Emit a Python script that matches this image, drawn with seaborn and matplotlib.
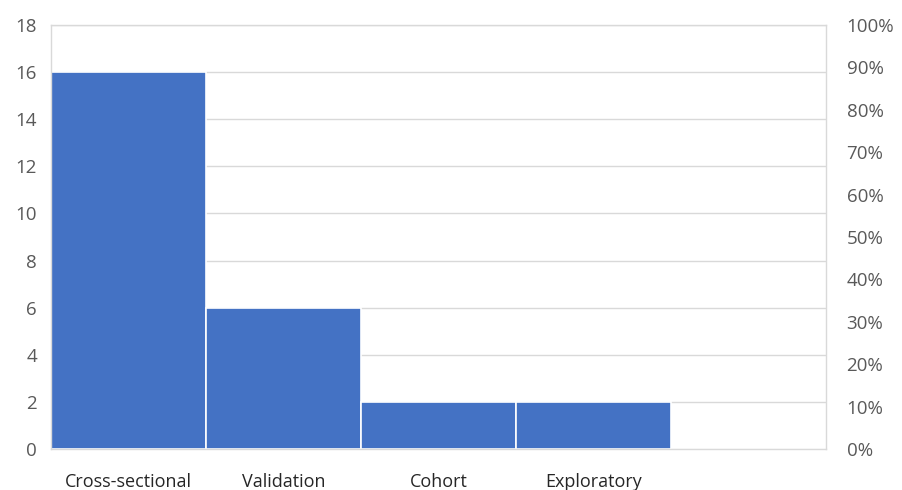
import matplotlib
matplotlib.use("Agg")
import matplotlib.pyplot as plt
import seaborn as sns
import pandas as pd
from matplotlib.ticker import PercentFormatter

# Study types and number of studies per type
categories = ["Cross-sectional", "Validation", "Cohort", "Exploratory", ""]
counts = [16, 6, 2, 2, 0]
count_ticks = [0, 2, 4, 6, 8, 10, 12, 14, 16, 18]
pct_ticks = [0.0, 0.1, 0.2, 0.3, 0.4, 0.5, 0.6, 0.7, 0.8, 0.9, 1.0]

sns.set_theme(style="white")
plt.rcParams["font.family"] = ["Open Sans", "DejaVu Sans"]

df = pd.DataFrame({"category": categories, "count": counts})

fig = plt.figure(figsize=(9.02, 4.90), dpi=100)
ax = fig.add_axes([0.0565, 0.0837, 0.859, 0.8653])

sns.barplot(data=df, x="category", y="count", order=categories,
            color="#4472C4", saturation=1, width=1.0,
            edgecolor="white", linewidth=1.2, ax=ax)

ax.set_ylim(0, 18)
ax.set_xlim(-0.5, len(categories) - 0.5)
ax.set_yticks(count_ticks)
ax.yaxis.grid(True, color="#D9D9D9", linewidth=1.0)
ax.set_axisbelow(True)
ax.set_xlabel("")
ax.set_ylabel("")
for side in ["left", "right", "top", "bottom"]:
    ax.spines[side].set_visible(True)
    ax.spines[side].set_color("#D9D9D9")
    ax.spines[side].set_linewidth(1.0)
ax.tick_params(axis="y", length=0, pad=10, labelsize=13.5, labelcolor="#595959")
ax.tick_params(axis="x", length=0, pad=17, labelsize=13, labelcolor="#262626")

ax2 = ax.twinx()
ax2.set_ylim(0, 1)
ax2.set_yticks(pct_ticks)
ax2.yaxis.set_major_formatter(PercentFormatter(1.0, decimals=0))
ax2.tick_params(axis="y", length=0, pad=15, labelsize=13.5, labelcolor="#595959")
for side in ["left", "right", "top", "bottom"]:
    ax2.spines[side].set_visible(False)
ax2.grid(False)

fig.savefig("out.png", dpi=100, facecolor="white")
